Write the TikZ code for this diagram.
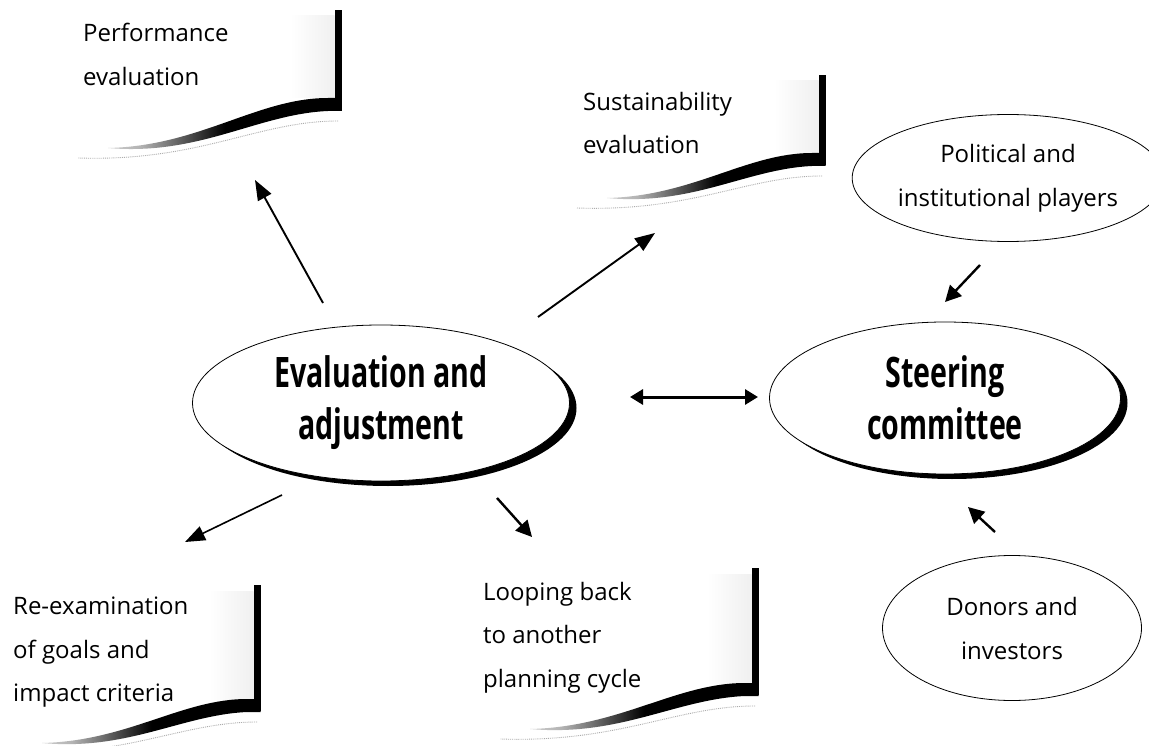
\documentclass[tikz,border=0pt]{standalone}
\usepackage{fontspec}
\setmainfont{Open Sans}
\newfontfamily\bigbold[FakeStretch=0.68]{Open Sans}
\usetikzlibrary{shapes.geometric,arrows.meta,shadows}
\pgfdeclarehorizontalshading{docfade}{100bp}{color(0bp)=(white); color(12bp)=(white); color(32bp)=(gray!60); color(50bp)=(black); color(100bp)=(black)}
\newcommand\docsheet[5]{%
  \shade[left color=white, right color=gray!12] (#1-48,#2+6) rectangle (#1-3.5,#3-12);
  \fill (#1-3.5,#2) rectangle (#1+3.5,#3);
  \shade[shading=docfade] (#1+3.5,#3+1) -- (#1+3.5,#3-12) -- (#1-10,#3-12)
     .. controls (#1-0.35*#4,#3-12) and (#1-0.6*#4,#3+#5-2) .. (#1-#4,#3+#5)
     .. controls (#1-0.6*#4,#3+#5+8) and (#1-0.35*#4,#3+4) .. (#1-10,#3+1) -- cycle;
  \draw[gray!65, densely dotted, line width=0.9pt] (#1,#3+11)
     .. controls (#1-0.35*#4,#3+11) and (#1-0.6*#4,#3+#5+14) .. (#1-#4-30,#3+#5+10);
}
\begin{document}
\begin{tikzpicture}[x=1pt,y=-1pt,
  bigell/.style={ellipse, draw, line width=0.8pt, fill=white, inner sep=0pt,
    drop shadow={shadow xshift=7pt, shadow yshift=-5pt, opacity=1, fill=black},
    font=\bigbold\bfseries\fontsize{42}{52}\selectfont, align=center},
  smallell/.style={ellipse, draw, line width=0.8pt, fill=white, inner sep=0pt,
    font=\fontsize{24}{44}\selectfont, align=center},
  doctext/.style={anchor=north west, inner sep=0pt, align=left,
    font=\fontsize{24}{43.5}\selectfont},
  arr/.style={line width=1.9pt, -{Triangle[length=20pt,width=15pt]}},
  sarr/.style={line width=2.4pt, -{Triangle[length=16pt,width=16pt]}},
  darr/.style={line width=3pt, {Triangle[length=13pt,width=15pt]}-{Triangle[length=13pt,width=15pt]}}
]
\useasboundingbox (0,0) rectangle (1149,746);
\fill[white] (0,0) rectangle (1149,746);

% document sheets
\docsheet{338}{10}{110}{230}{38}
\docsheet{822}{75}{165}{215}{33}
\docsheet{257}{585}{711}{215}{32}
\docsheet{755}{568}{695}{225}{34}

\node[doctext] (perf) at (83,23) {Performance\\evaluation};
\node[doctext] (sust) at (583,92) {Sustainability\\evaluation};
\node[doctext] (reex) at (13,597) {Re-examination\\of goals and\\impact criteria};
\node[doctext] (loop) at (483,582) {Looping back\\to another\\planning cycle};

% ellipses
\node[bigell, minimum width=377pt, minimum height=156pt] (eval) at (381,403) {Evaluation and\\adjustment};
\node[bigell, minimum width=351pt, minimum height=152pt] (steer) at (945,398) {Steering\\committee};
\node[smallell, minimum width=276pt, minimum height=127pt] (pol) at (1008,178) {Political and\\institutional players};
\node[smallell, minimum width=259pt, minimum height=145pt] (don) at (1012,628) {Donors and\\investors};

% connector ends
\coordinate (e1) at (323,303); \coordinate (p1) at (255,180);
\coordinate (e2) at (538,317); \coordinate (s2) at (655,233);
\coordinate (e3) at (282,495); \coordinate (r3) at (185,542);
\coordinate (e4) at (497,498); \coordinate (l4) at (532,537);
\coordinate (e5) at (630,397); \coordinate (c5) at (758,397);
\coordinate (o6) at (980,265); \coordinate (c6) at (945,302);
\coordinate (o7) at (995,532); \coordinate (c7) at (968,507);

\draw[arr] (e1) -- (p1);
\draw[arr] (e2) -- (s2);
\draw[arr, line width=1.6pt] (e3) -- (r3);
\draw[sarr] (e4) -- (l4);
\draw[darr] (e5) -- (c5);
\draw[sarr] (o6) -- (c6);
\draw[sarr] (o7) -- (c7);
\end{tikzpicture}
\end{document}
